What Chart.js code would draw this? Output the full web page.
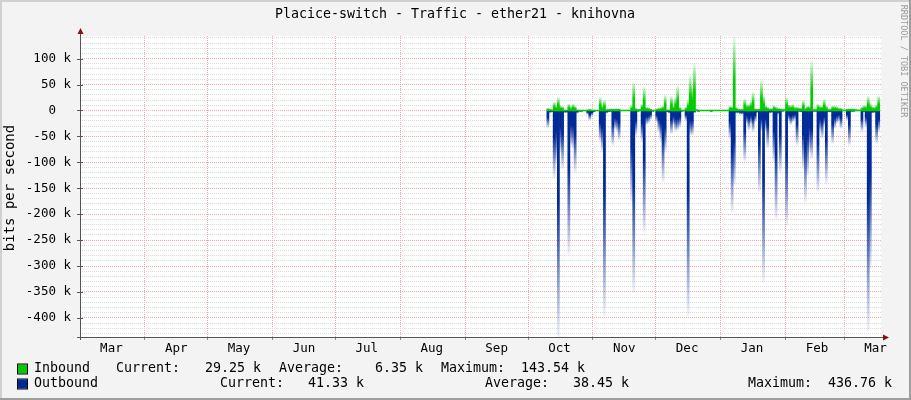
<!DOCTYPE html>
<html>
<head>
<meta charset="utf-8">
<title>Placice-switch - Traffic - ether21 - knihovna</title>
<script src="https://cdn.jsdelivr.net/npm/chart.js@4/dist/chart.umd.min.js"></script>
<style>
    html, body { margin: 0; padding: 0; background: #f3f3f3; }
    #wrap { width: 911px; height: 400px; }
</style>
</head>
<body>
<div id="wrap"><canvas id="traffic_chart" width="911" height="400"></canvas></div>
<script>
// x axis runs in days since 1 Mar; values are in k (bits per second / 1000)
const monthNames = ["Mar", "Apr", "May", "Jun", "Jul", "Aug", "Sep", "Oct", "Nov", "Dec", "Jan", "Feb", "Mar"];
const monthStarts = [0, 31, 61, 92, 122, 153, 184, 214, 245, 275, 306, 337, 365];
const labelDay = 15; // month name sits on the 16th
const xEnd = 382.6;

const yTicks = [100, 50, 0, -50, -100, -150, -200, -250, -300, -350, -400];
const yMin = -436.76;
const yMax = 143.54;

// one sample per day, first sample is day 223 (10 Oct)
const firstDay = 223;
const inbound = [
    5, 3, 2, 17, 10, 26, 10, 8, 1, 1,
    13, 7, 13, 9, 2, 1, 1, 1, 1, 2,
    3, 2, 1, 1, 1, 26, 10, 20, 3, 3,
    4, 4, 4, 4, 4, 1, 0.5, 0.5, 0.5, 0.5,
    10, 55, 5, 3, 3, 13, 46, 7, 6, 4,
    1, 1, 4, 5, 6, 9, 30, 2, 2, 28,
    10, 26, 48, 7, 1, 1, 7, 20, 68, 49,
    91, 3, 0.3, 0.3, 0.3, 0.3, 0.3, 0.3, 0.3, 0.3,
    0.3, 0.3, 0.3, 0.3, 0.3, 0.3, 0.3, 9, 8, 143,
    7, 3, 3, 3, 23, 12, 12, 18, 36, 4,
    3, 4, 59, 30, 10, 7, 4, 4, 10, 7,
    5, 4, 3, 3, 26, 12, 10, 12, 7, 7,
    6, 5, 20, 5, 9, 9, 97, 3, 3, 13,
    9, 9, 22, 10, 3, 3, 9, 9, 8, 5,
    5, 2, 2, 4, 4, 4, 4, 3, 2, 2,
    7, 10, 10, 28, 14, 8, 7, 12, 29,
];
const outbound = [
    -34, -5, -4, -130, -100, -437, -80, -112, -5, -5,
    -277, -67, -73, -119, -6, -3, -3, -2, -2, -8,
    -19, -10, -4, -2, -2, -60, -80, -396, -6, -4,
    -3, -67, -35, -40, -57, -2, -1, 0, 0, -1,
    -177, -350, -48, -3, -2, -60, -235, -28, -25, -18,
    -3, -2, -22, -41, -60, -138, -80, -4, -6, -45,
    -28, -40, -38, -32, -3, -2, -20, -396, -48, -48,
    -5, -2, -3, 0, 0, 0, 0, 0, -3, 0,
    0, 0, 0, 0, 0, 0, 0, -54, -196, -144,
    -6, -6, -8, -8, -99, -25, -38, -25, -41, -22,
    -5, -157, -40, -331, -40, -72, -6, -5, -99, -209,
    -8, -119, -3, -2, -222, -19, -28, -22, -18, -67,
    -3, -4, -112, -177, -125, -80, -93, -3, -3, -157,
    -40, -54, -30, -141, -4, -4, -64, -35, -25, -20,
    -35, -2, -1, -19, -67, -3, -3, -2, -1, -1,
    -41, -4, -32, -425, -306, -6, -5, -64, -41,
];

const legendRows = [
    { name: "Inbound", color: "#00cc00", cur: "29.25 k", avg: "6.35 k", max: "143.54 k" },
    { name: "Outbound", color: "#002a97", cur: "41.33 k", avg: "38.45 k", max: "436.76 k" },
];

const MONO = "'DejaVu Sans Mono', monospace";
const GRID_MINOR = "#dadada";
const GRID_MAJOR = "#f2a9a9";

function toPoints(values) {
    return values.map((v, i) => ({ x: firstDay + i + 0.5, y: v }));
}

// per-bar gradient: solid at the zero line, fading out towards the tip
function fade(solid, pale) {
    return function (ctx) {
        const chart = ctx.chart;
        const v = ctx.parsed ? ctx.parsed.y : 0;
        if (!chart.chartArea || !v) return solid;
        const y = chart.scales.y;
        const g = chart.ctx.createLinearGradient(0, y.getPixelForValue(0), 0, y.getPixelForValue(v));
        g.addColorStop(0, solid);
        g.addColorStop(0.4, solid);
        g.addColorStop(1, pale);
        return g;
    };
}

const xTickValues = [];
monthStarts.forEach((d) => {
    xTickValues.push(d);
    if (d + labelDay < xEnd) xTickValues.push(d + labelDay);
});
xTickValues.sort((a, b) => a - b);

const yGrid = [];
for (let v = -430; v <= 140; v += 10) yGrid.push(v);

const rrdDecor = {
    id: "rrdDecor",
    beforeDraw(chart) {
        const { ctx, chartArea: a } = chart;
        ctx.save();
        ctx.fillStyle = "#f3f3f3";
        ctx.fillRect(0, 0, chart.width, chart.height);
        ctx.fillStyle = "#ffffff";
        ctx.fillRect(a.left, a.top, a.right - a.left, a.bottom - a.top);
        ctx.restore();
    },
    afterDraw(chart) {
        const { ctx, chartArea: a } = chart;
        const yScale = chart.scales.y;
        ctx.save();

        // axes
        ctx.strokeStyle = "#555555";
        ctx.lineWidth = 1;
        ctx.beginPath();
        ctx.moveTo(a.left + 0.5, a.bottom + 3);
        ctx.lineTo(a.left + 0.5, a.top - 5);
        ctx.moveTo(a.left - 3, a.bottom + 0.5);
        ctx.lineTo(a.right + 4, a.bottom + 0.5);
        yTicks.forEach((v) => {
            const py = Math.round(yScale.getPixelForValue(v)) + 0.5;
            ctx.moveTo(a.left - 3, py);
            ctx.lineTo(a.left + 3, py);
        });
        ctx.stroke();
        ctx.fillStyle = "#8b0f0f";
        ctx.beginPath();
        ctx.moveTo(a.left + 0.5, a.top - 8);
        ctx.lineTo(a.left - 2.5, a.top - 2);
        ctx.lineTo(a.left + 3.5, a.top - 2);
        ctx.closePath();
        ctx.fill();
        ctx.beginPath();
        ctx.moveTo(a.right + 8, a.bottom + 0.5);
        ctx.lineTo(a.right + 2, a.bottom - 2.5);
        ctx.lineTo(a.right + 2, a.bottom + 3.5);
        ctx.closePath();
        ctx.fill();

        // title
        ctx.fillStyle = "#000000";
        ctx.textBaseline = "middle";
        ctx.textAlign = "center";
        ctx.font = "13.3px " + MONO;
        ctx.fillText("Placice-switch - Traffic - ether21 - knihovna", 455, 15);

        // vertical unit label
        ctx.save();
        ctx.translate(10, 188);
        ctx.rotate(-Math.PI / 2);
        ctx.font = "14px " + MONO;
        ctx.fillText("bits per second", 0, 0);
        ctx.restore();

        // watermark
        ctx.save();
        ctx.translate(903, 61);
        ctx.rotate(Math.PI / 2);
        ctx.fillStyle = "#9a9a9a";
        ctx.font = "8.5px " + MONO;
        ctx.fillText("RRDTOOL / TOBI OETIKER", 0, 0);
        ctx.restore();

        // legend
        ctx.textAlign = "left";
        ctx.font = "13.3px " + MONO;
        const rowY = [369, 384];
        const cols = [
            [116, 205, 279, 375, 441, 521],
            [220, 308, 485, 573, 748, 828],
        ];
        legendRows.forEach((r, i) => {
            const y = rowY[i];
            ctx.fillStyle = r.color;
            ctx.fillRect(18, y - 4.5, 9, 9);
            ctx.strokeStyle = "#000000";
            ctx.strokeRect(17.5, y - 5, 10, 10);
            ctx.fillStyle = "#000000";
            ctx.fillText(r.name, 34, y);
            const c = cols[i];
            ctx.fillText("Current:", c[0], y);
            ctx.fillText(r.cur, c[1], y);
            ctx.fillText("Average:", c[2], y);
            ctx.fillText(r.avg, c[3], y);
            ctx.fillText("Maximum:", c[4], y);
            ctx.fillText(r.max, c[5], y);
        });

        // frame
        ctx.fillStyle = "#d0d0d0";
        ctx.fillRect(0, 0, chart.width, 2);
        ctx.fillRect(0, 0, 2, chart.height);
        ctx.fillStyle = "#9e9e9e";
        ctx.fillRect(chart.width - 2, 0, 2, chart.height);
        ctx.fillRect(0, chart.height - 2, chart.width, 2);
        ctx.restore();
    },
};

new Chart(document.getElementById("traffic_chart"), {
    type: "bar",
    data: {
        datasets: [
            {
                type: "line",
                data: [
                    { x: firstDay, y: 0 },
                    { x: firstDay + inbound.length, y: 0 },
                ],
                borderColor: "#00cc00",
                borderWidth: 1.5,
                pointRadius: 0,
                order: 0,
            },
            {
                data: toPoints(inbound),
                backgroundColor: fade("#00cc00", "rgba(0, 204, 0, 0.06)"),
                grouped: false,
                barPercentage: 1,
                categoryPercentage: 1,
                borderWidth: 0,
                order: 1,
            },
            {
                data: toPoints(outbound),
                backgroundColor: fade("#002a97", "rgba(0, 42, 151, 0.05)"),
                grouped: false,
                barPercentage: 1,
                categoryPercentage: 1,
                borderWidth: 0,
                order: 1,
            },
        ],
    },
    options: {
        responsive: false,
        animation: false,
        layout: {
            padding: { top: 36, right: 30, left: 0, bottom: 0 },
        },
        plugins: {
            legend: { display: false },
            tooltip: { enabled: false },
        },
        scales: {
            x: {
                type: "linear",
                min: 0,
                max: xEnd,
                offset: false,
                afterBuildTicks: (s) => {
                    s.ticks = xTickValues.map((v) => ({ value: v }));
                },
                afterFit: (s) => {
                    s.height = 63;
                },
                ticks: {
                    autoSkip: false,
                    maxRotation: 0,
                    minRotation: 0,
                    padding: 1,
                    color: "#000000",
                    font: { family: MONO, size: 12.5 },
                    callback: (v) => {
                        const i = monthStarts.indexOf(v - labelDay);
                        return i >= 0 ? monthNames[i] : "";
                    },
                },
                grid: {
                    offset: false,
                    color: (c) => (monthStarts.includes(c.tick.value) ? GRID_MAJOR : "rgba(0,0,0,0)"),
                    tickLength: 3,
                    tickColor: (c) => (monthStarts.includes(c.tick.value) ? "#888888" : "rgba(0,0,0,0)"),
                },
                border: { display: false, dash: [1, 1] },
            },
            y: {
                min: yMin,
                max: yMax,
                afterBuildTicks: (s) => {
                    s.ticks = yGrid.map((v) => ({ value: v }));
                },
                afterFit: (s) => {
                    s.width = 80;
                },
                ticks: {
                    autoSkip: false,
                    padding: 9,
                    color: "#000000",
                    font: { family: MONO, size: 12.5 },
                    callback: (v) => (yTicks.includes(v) ? (v === 0 ? "0  " : v + " k") : ""),
                },
                grid: {
                    drawTicks: false,
                    color: (c) => (c.tick.value % 50 === 0 ? GRID_MAJOR : GRID_MINOR),
                },
                border: { display: false, dash: [1, 1] },
            },
        },
    },
    plugins: [rrdDecor],
});
</script>
</body>
</html>
